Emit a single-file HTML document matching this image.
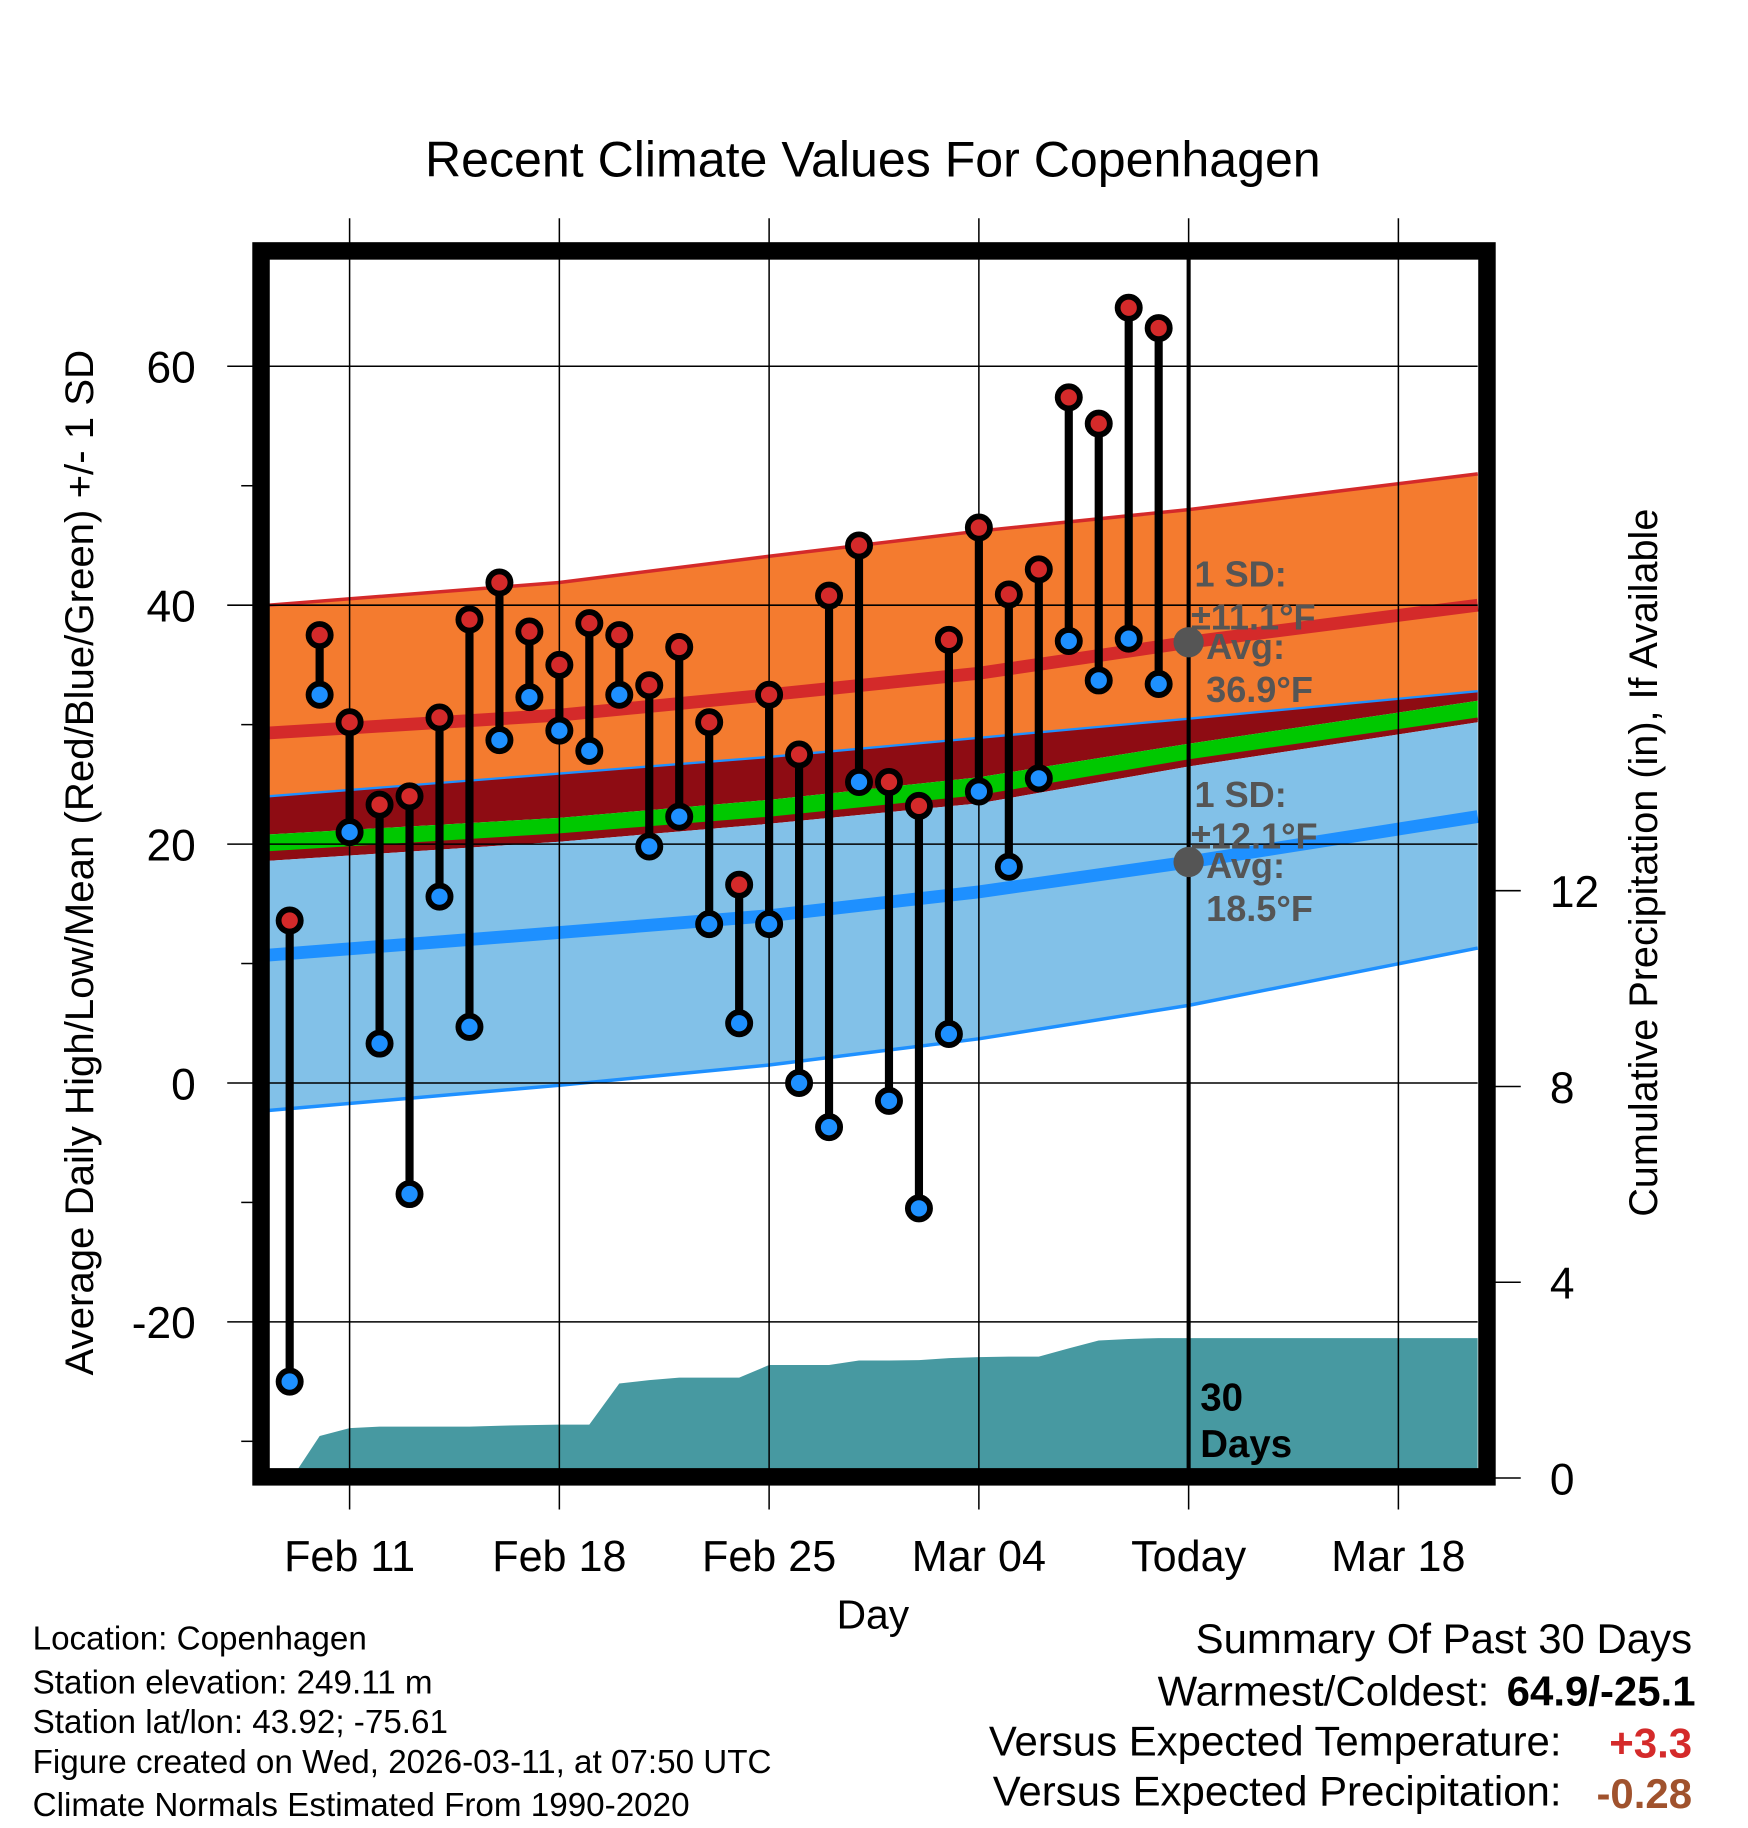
<!DOCTYPE html>
<html><head><meta charset="utf-8"><style>
html,body{margin:0;padding:0;background:#fff;}
svg{display:block;font-family:"Liberation Sans",Arial,sans-serif;}
</style></head><body>
<svg id="chart" width="1748" height="1828" viewBox="0 0 1500 1568" xmlns="http://www.w3.org/2000/svg">
<rect x="0" y="0" width="1500" height="1568" fill="#fff"/>
<text x="749" y="151" font-size="43" text-anchor="middle">Recent Climate Values For Copenhagen</text>
<g id="bands"></g>
<g id="precip"></g>
<g id="grid"></g>
<g id="marks"></g>
<g id="labels"></g>
<rect x="224" y="215" width="1052" height="1052" fill="none" stroke="#000" stroke-width="15"/>
<text transform="translate(80,740) rotate(-90)" font-size="34.5" text-anchor="middle">Average Daily High/Low/Mean (Red/Blue/Green) +/- 1 SD</text>
<text transform="translate(1422,740) rotate(-90)" font-size="34" text-anchor="middle">Cumulative Precipitation (in), If Available</text>
<text x="749" y="1397" font-size="35" text-anchor="middle">Day</text>
<g font-size="28.5">
<text x="28" y="1415">Location: Copenhagen</text>
<text x="28" y="1453">Station elevation: 249.11 m</text>
<text x="28" y="1487">Station lat/lon: 43.92; -75.61</text>
<text x="28" y="1521">Figure created on Wed, 2026-03-11, at 07:50 UTC</text>
<text x="28" y="1558">Climate Normals Estimated From 1990-2020</text>
</g>
<g font-size="36">
<text x="1452" y="1418" text-anchor="end">Summary Of Past 30 Days</text>
<text x="1278" y="1463" text-anchor="end">Warmest/Coldest:</text>
<text x="1455" y="1463" text-anchor="end" font-weight="bold">64.9/-25.1</text>
<text x="1340" y="1506" text-anchor="end">Versus Expected Temperature:</text>
<text x="1452" y="1508" text-anchor="end" font-weight="bold" fill="#d42a2a">+3.3</text>
<text x="1340" y="1549" text-anchor="end">Versus Expected Precipitation:</text>
<text x="1452" y="1551" text-anchor="end" font-weight="bold" fill="#a0522d">-0.28</text>
</g>
</svg>
<script>
// data (day index 0 = Feb 9)
const highs=[13.6,37.5,30.2,23.3,24,30.6,38.8,41.9,37.8,35,38.5,37.5,33.3,36.5,30.2,16.6,32.5,27.5,40.8,45,25.2,23.2,37.1,46.5,40.9,43,57.4,55.2,64.9,63.2];
const lows=[-25,32.5,21,3.3,-9.3,15.6,4.7,28.7,32.3,29.5,27.8,32.5,19.8,22.3,13.3,5,13.3,0,-3.7,25.2,-1.5,-10.5,4.1,24.4,18.1,25.5,37,33.7,37.2,33.4];
const precip=[0,0.86,1.02,1.05,1.05,1.05,1.05,1.07,1.08,1.09,1.09,1.93,2.0,2.05,2.05,2.05,2.31,2.31,2.31,2.4,2.4,2.41,2.45,2.47,2.48,2.48,2.65,2.81,2.84,2.86];
const normDays=[-0.72,9,16,23,30,39.65];
const highPlus=[40,41.9,44.1,46.2,48,51];
const highAvg=[29.3,30.8,32.5,34.3,36.9,40];
const lowPlus=[24,25.9,27.3,28.9,30.5,32.8];
const greenTop=[20.8,22.2,23.7,25.6,28.4,32];
const greenBot=[19.3,20.8,22.2,24.0,27.0,30.5];
const highMinus=[18.6,20.2,21.7,23.4,26.5,30.2];
const lowAvg=[10.7,12.6,14,16,18.5,22.3];
const lowMinus=[-2.3,-0.2,1.5,3.7,6.5,11.3];
const yTicks=[60,40,20,0,-20];
const yMinor=[50,30,10,-10,-30];
const pTicks=[0,4,8,12];
const xTickDays=[2,9,16,23,30,37];
const xTickLabels=["Feb 11","Feb 18","Feb 25","Mar 04","Today","Mar 18"];
const todayDay=30;
const todayHigh=36.9, todayLow=18.5;

const NS="http://www.w3.org/2000/svg";
const X=d=>300+(d-2)*25.714;
const Y=v=>929-v*10.25;
const P=p=>1268-p*42;
const L=230,R=1268,T=222,B=1260;
function mk(tag,attrs,parent){const e=document.createElementNS(NS,tag);for(const k in attrs)e.setAttribute(k,attrs[k]);parent.appendChild(e);return e;}
function line(arr){return normDays.map((d,i)=>X(d).toFixed(1)+","+Y(arr[i]).toFixed(1));}
function band(top,bot,fill,name,g){
  const pts=line(top).concat(line(bot).reverse());
  const e=mk('polygon',{points:pts.join(' '),fill:fill},g);
  
  
}
const bands=document.getElementById('bands');
band(highPlus,lowPlus,'#f47b2f','high-sd-band',bands);
band(lowPlus,greenTop,'#8e0c13','overlap-band-upper',bands);
band(greenTop,greenBot,'#00c800','mean-band',bands);
band(greenBot,highMinus,'#8e0c13','overlap-band-lower',bands);
band(highMinus,lowMinus,'#82c1e8','low-sd-band',bands);
function pl(arr,color,w,name){const e=mk('polyline',{points:line(arr).join(' '),fill:'none',stroke:color,'stroke-width':w},bands);

}
pl(highPlus,'#d42a2a',3,'high-plus-line');
pl(highAvg,'#d42a2a',11,'high-avg-line');
pl(lowPlus,'#1e90ff',2,'low-plus-line');
pl(greenBot,'#8e0c13',2,'green-bottom-line');
pl(lowAvg,'#1e90ff',11,'low-avg-line');
pl(lowMinus,'#1e90ff',3,'low-minus-line');

// precip
const pg=document.getElementById('precip');
let pp=[X(0.28).toFixed(1)+","+B];
precip.forEach((v,i)=>{ if(i>0) pp.push(X(i).toFixed(1)+","+P(v).toFixed(1)); });
pp.push(R+","+P(precip[precip.length-1]).toFixed(1));
pp.push(R+","+B);
const pe=mk('polygon',{points:pp.join(' '),fill:'#4799a1'},pg);



// grid
const gg=document.getElementById('grid');
yTicks.forEach(v=>{
  const ln=mk('line',{x1:195,x2:R,y1:Y(v),y2:Y(v),stroke:'#000','stroke-width':1.3},gg);
  
  
  const t=mk('text',{x:168,y:Y(v)+14,'font-size':38,'text-anchor':'end'},gg);
  t.textContent=v;
  
  
});
yMinor.forEach(v=>{
  const ln=mk('line',{x1:207,x2:220,y1:Y(v),y2:Y(v),stroke:'#000','stroke-width':1.3},gg);
  
  
});
pTicks.forEach(v=>{
  const ln=mk('line',{x1:1280,x2:1305,y1:P(v),y2:P(v),stroke:'#000','stroke-width':1.3},gg);
  
  
  const t=mk('text',{x:1330,y:P(v)+14,'font-size':38},gg);
  t.textContent=v;
  
  
});
xTickDays.forEach((d,i)=>{
  const ln=mk('line',{x1:X(d),x2:X(d),y1:187,y2:1295,stroke:'#000','stroke-width':1.3},gg);
  
  
  const t=mk('text',{x:X(d),y:1348,'font-size':37,'text-anchor':'middle'},gg);
  t.textContent=xTickLabels[i];
  
  
});
const tl=mk('line',{x1:X(todayDay),x2:X(todayDay),y1:T,y2:B,stroke:'#000','stroke-width':3.5},gg);



// marks
const mg=document.getElementById('marks');
highs.forEach((h,i)=>{
  const l=lows[i];
  const s=mk('line',{x1:X(i),x2:X(i),y1:Y(h),y2:Y(l),stroke:'#000','stroke-width':7},mg);
  
  
});
highs.forEach((h,i)=>{
  const c=mk('circle',{cx:X(i),cy:Y(h),r:9.5,fill:'#d42a2a',stroke:'#000','stroke-width':5},mg);
  
  
  const c2=mk('circle',{cx:X(i),cy:Y(lows[i]),r:9.5,fill:'#1e90ff',stroke:'#000','stroke-width':5},mg);
  
  
});

// today labels
const lg=document.getElementById('labels');
[todayHigh,todayLow].forEach(v=>{
  const c=mk('circle',{cx:X(todayDay),cy:Y(v),r:13,fill:'#555'},lg);
  
  
});
const txt=[["1 SD:",1025,503],["±11.1°F",1022,540],["Avg:",1035,565],["36.9°F",1035,602],
["1 SD:",1025,692],["±12.1°F",1022,728],["Avg:",1035,753],["18.5°F",1035,790]];
txt.forEach(a=>{
  const t=mk('text',{x:a[1],y:a[2],'font-size':31,'font-weight':'bold',fill:'#555'},lg);
  t.textContent=a[0];
  
  
});
[["30",1030,1210],["Days",1030,1250]].forEach(a=>{
  const t=mk('text',{x:a[1],y:a[2],'font-size':33,'font-weight':'bold',fill:'#000'},lg);
  t.textContent=a[0];
  
  
});
</script>
</body></html>
